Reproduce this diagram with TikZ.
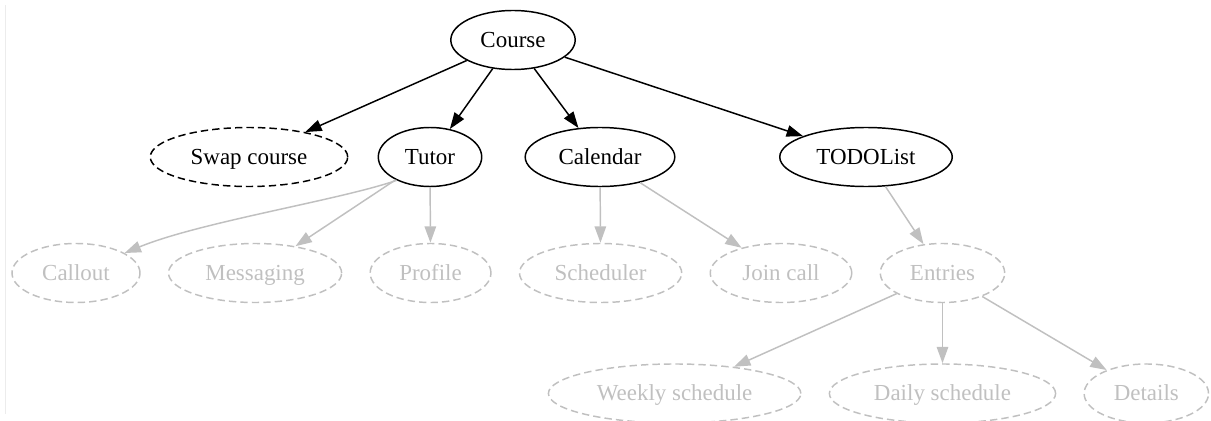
\documentclass[tikz,border=0pt]{standalone}
\usepackage{fontspec}
\setmainfont{Liberation Serif}
\usetikzlibrary{positioning, arrows.meta, shapes.geometric}
\definecolor{FadeA}{HTML}{C0C0C0}
\definecolor{EdgeB}{HTML}{ECECEC}
\tikzset{
  nd/.style={ellipse, draw, line width=0.9pt, inner xsep=7pt, inner ysep=4pt, text height=11pt, text depth=2pt, minimum width=54pt, minimum height=36pt, font=\fontsize{14pt}{17pt}\selectfont},
  live/.style={draw=black, text=black},
  plan/.style={dash pattern=on 4.5pt off 2.5pt},
  faded/.style={draw=FadeA, text=FadeA, plan},
  arr/.style={-{Triangle[length=10pt, width=7pt]}, line width=0.9pt},
  farr/.style={arr, color=FadeA}
}

\begin{document}
\begin{tikzpicture}[x=0.61pt, y=-0.61pt, node distance=16.5pt]
  \useasboundingbox (0,0) rectangle (1211,421);
  \draw[EdgeB, line width=0.6pt] (5,5) -- (5,414);

  \node[nd,live] (course) at (513,40) {Course};
  \node[nd,live,plan] (swap) at (249,157) {Swap course};
  \node[nd,live] (tutor) at (430,157) {Tutor};
  \node[nd,live] (cal) at (600,157) {Calendar};
  \node[nd,live] (todo) at (866,157) {TODOList};

  \node[nd,faded] (callout) at (76,273) {Callout};
  \node[nd,faded,right=of callout] (msg) {Messaging};
  \node[nd,faded,right=of msg] (profile) {Profile};
  \node[nd,faded,right=of profile] (sched) {Scheduler};
  \node[nd,faded,right=of sched] (join) {Join call};
  \node[nd,faded,right=of join] (entries) {Entries};

  \node[nd,faded,below=36.6pt of entries] (daily) {Daily schedule};
  \node[nd,faded,left=of daily] (weekly) {Weekly schedule};
  \node[nd,faded,right=of daily] (details) {Details};

  \draw[arr] (course) -- (swap);
  \draw[arr] (course) -- (tutor);
  \draw[arr] (course) -- (cal);
  \draw[arr] (course) -- (todo);

  \draw[farr] (tutor.-145) .. controls (340,200) and (200,222) .. (callout);
  \draw[farr] (tutor) -- (msg);
  \draw[farr] (tutor) -- (profile);
  \draw[farr] (cal) -- (sched);
  \draw[farr] (cal) -- (join);
  \draw[farr] (todo) -- (entries);
  \draw[farr] (entries) -- (weekly);
  \draw[farr] (entries) -- (daily);
  \draw[farr] (entries) -- (details);
\end{tikzpicture}
\end{document}
